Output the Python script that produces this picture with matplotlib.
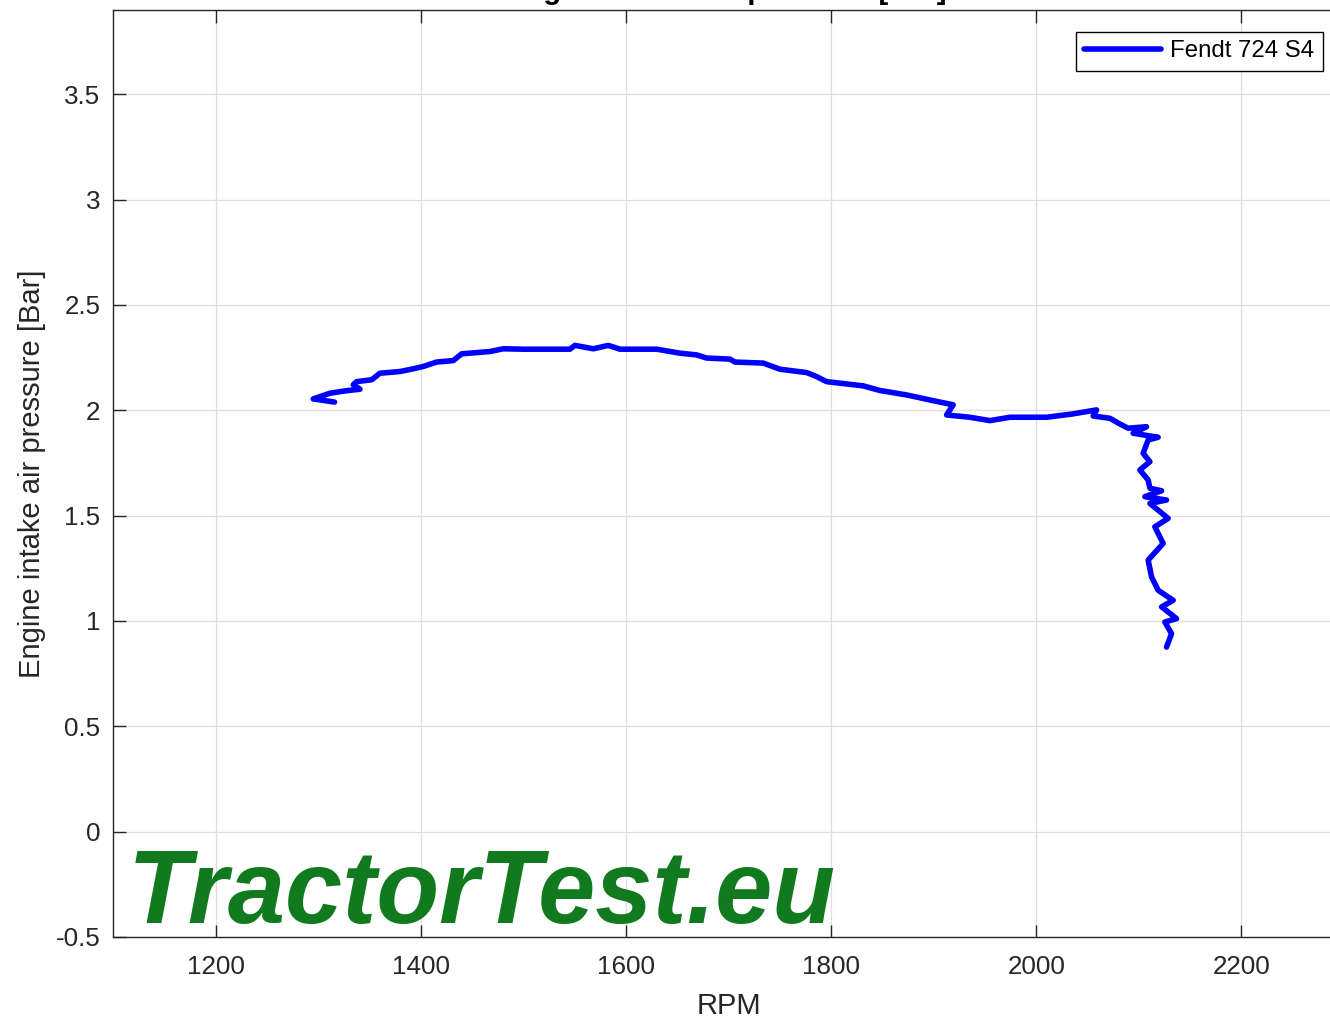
import matplotlib
matplotlib.use("Agg")
import matplotlib.pyplot as plt

plt.rcParams['font.family'] = ['Liberation Sans', 'DejaVu Sans']

# ---- data ----
rpm = [1316.0, 1295.2, 1311.5, 1326.1, 1340.8, 1334.2, 1337.5, 1352.2, 1360.2, 1379.7,
       1392.7, 1402.4, 1415.5, 1431.7, 1439.9, 1467.5, 1480.4, 1499.9, 1545.4, 1550.3,
       1568.2, 1582.8, 1594.2, 1630.0, 1652.7,
       1668.9, 1678.7, 1701.4, 1706.3, 1733.9, 1750.1, 1776.2, 1785.9, 1795.6, 1831.3,
       1847.6, 1873.6, 1896.3, 1919.0, 1912.6, 1935.3, 1954.8, 1974.3, 2010.1, 2036.0,
       2058.8, 2055.5, 2071.8, 2081.5, 2089.6,
       2107.5, 2094.5, 2118.8, 2109.1, 2104.2, 2110.8, 2101.0, 2109.1, 2110.8, 2122.2,
       2105.9, 2127.0, 2110.8, 2128.6, 2115.6, 2123.7, 2109.1, 2112.4, 2118.8, 2133.5,
       2122.2, 2136.8, 2125.4, 2131.9, 2127.0]
pressure = [2.039, 2.054, 2.081, 2.092, 2.100, 2.121, 2.136, 2.145, 2.176, 2.184,
            2.197, 2.208, 2.229, 2.236, 2.268, 2.279, 2.292, 2.290, 2.290, 2.308,
            2.292, 2.308, 2.290, 2.290, 2.271,
            2.263, 2.248, 2.243, 2.229, 2.224, 2.195, 2.179, 2.160, 2.136, 2.116,
            2.094, 2.073, 2.049, 2.026, 1.978, 1.967, 1.951, 1.967, 1.967, 1.983,
            2.002, 1.973, 1.962, 1.935, 1.915,
            1.922, 1.891, 1.872, 1.859, 1.796, 1.756, 1.717, 1.669, 1.630, 1.618,
            1.590, 1.574, 1.558, 1.487, 1.447, 1.368, 1.289, 1.209, 1.146, 1.098,
            1.067, 1.011, 0.995, 0.940, 0.876]

series_label = "Fendt 724 S4"
x_ticks = [1200, 1400, 1600, 1800, 2000, 2200]
x_tick_labels = ["1200", "1400", "1600", "1800", "2000", "2200"]
y_ticks = [-0.5, 0, 0.5, 1, 1.5, 2, 2.5, 3, 3.5]
y_tick_labels = ["-0.5", "0", "0.5", "1", "1.5", "2", "2.5", "3", "3.5"]

W, H = 1330, 1019
fig = plt.figure(figsize=(W / 100, H / 100), dpi=100)
ax = fig.add_axes([113 / W, (H - 937) / H, (1344 - 113) / W, (937 - 10) / H])

ax.plot(rpm, pressure, color='#0000ff', lw=4.0, solid_joinstyle='round',
        solid_capstyle='round', label=series_label, zorder=3)

ax.set_xlim(1100, 2300)
ax.set_ylim(-0.5, 3.9)
ax.set_xticks(x_ticks)
ax.set_xticklabels(x_tick_labels)
ax.set_yticks(y_ticks)
ax.set_yticklabels(y_tick_labels)

axis_col = '#262626'
ax.grid(True, color='#dedede', lw=0.9)
ax.set_axisbelow(True)
for s in ax.spines.values():
    s.set_color(axis_col)
    s.set_linewidth(1.0)
ax.tick_params(axis='both', which='both', direction='in', length=9, width=1.0,
               colors=axis_col, labelsize=18.7, top=True, right=True)
ax.tick_params(axis='x', pad=13)
ax.tick_params(axis='y', pad=9)

ax.set_xlabel("RPM", fontsize=21, color=axis_col, labelpad=9)
ax.set_ylabel("Engine intake air pressure [Bar]", fontsize=21, color=axis_col, labelpad=7)

# title (mostly cut off at the top in the reference)
fig.text(726 / W, 1 + 1 / H, "Engine intake air pressure [Bar]", ha='center',
         va='baseline', fontsize=21, fontweight='bold', color='black')

leg = ax.legend(loc='upper right', bbox_to_anchor=(1323 / W, 1 - 32 / H),
                bbox_transform=fig.transFigure, borderaxespad=0, fontsize=17.3,
                fancybox=False, framealpha=1, edgecolor='black', handlelength=3.2,
                handletextpad=0.4, borderpad=0.35)
leg.get_frame().set_linewidth(1.0)

# watermark logo as text
fig.text(128 / W, (H - 923) / H, "TractorTest.eu", ha='left', va='baseline',
         fontsize=74, fontweight='bold', fontstyle='italic', color='#117a1e', zorder=5)

fig.savefig("out.png", dpi=100)
